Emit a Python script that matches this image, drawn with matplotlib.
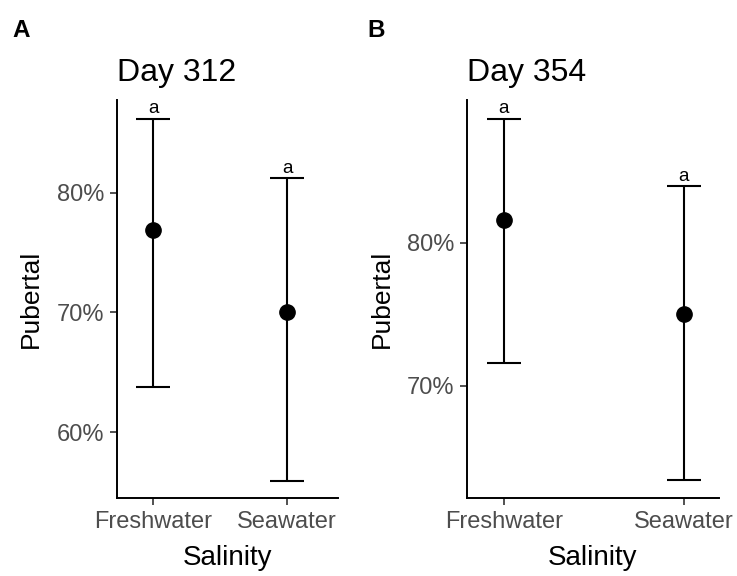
import numpy as np
import matplotlib
matplotlib.use("Agg")
import matplotlib.pyplot as plt
from matplotlib.ticker import FuncFormatter

plt.rcParams['font.family'] = ['Liberation Sans', 'DejaVu Sans']

# Data (percent)
salinity = ['Freshwater', 'Seawater']

day312_mean = [76.9, 70.0]
day312_low = [63.8, 55.9]
day312_high = [86.2, 81.2]
day312_letters = ['a', 'a']

day354_mean = [81.6, 75.05]
day354_low = [71.6, 63.4]
day354_high = [88.7, 83.95]
day354_letters = ['a', 'a']

W, H = 737, 576
fig = plt.figure(figsize=(W / 100, H / 100), dpi=100)


def px_axes(left, right, top, bottom):
    return fig.add_axes([left / W, 1 - bottom / H, (right - left) / W, (bottom - top) / H])


# Draw one panel: point + error bar + letters above caps
def draw_panel(ax, mean, low, high, letters, title, xlim, ylim, yticks, ylab_x):
    x = np.arange(1, len(salinity) + 1)
    mean = np.array(mean)
    yerr = [mean - np.array(low), np.array(high) - mean]
    ax.errorbar(x, mean, yerr=yerr, fmt='o', color='black', ms=11,
                elinewidth=1.5, capsize=12.5, capthick=1.5)
    for xi, hi, lab in zip(x, high, letters):
        ax.annotate(lab, (xi, hi), xytext=(0, 1), textcoords='offset points',
                    ha='center', va='bottom', fontsize=13.5)

    ax.set_xlim(*xlim)
    ax.set_ylim(*ylim)
    ax.set_xticks(x)
    ax.set_xticklabels(salinity)
    ax.set_yticks(yticks)
    ax.yaxis.set_major_formatter(FuncFormatter(lambda v, p: f'{v:.0f}%'))
    ax.tick_params(labelsize=17, labelcolor='#4D4D4D', color='#333333',
                   length=5, width=1.2, pad=4)
    for s in ['top', 'right']:
        ax.spines[s].set_visible(False)
    for s in ['left', 'bottom']:
        ax.spines[s].set_linewidth(1.4)
    ax.set_xlabel('Salinity', fontsize=20, labelpad=9)
    ax.set_ylabel('Pubertal', fontsize=19)
    ax.yaxis.set_label_coords(ylab_x, 0.5)
    ax.set_title(title, loc='left', fontsize=23, pad=14)


axA = px_axes(117, 338, 100, 498)
draw_panel(axA, day312_mean, day312_low, day312_high, day312_letters,
           'Day 312', (0.73, 2.38), (54.5, 87.75), [60, 70, 80], -0.335)

axB = px_axes(467, 719, 100, 498)
draw_panel(axB, day354_mean, day354_low, day354_high, day354_letters,
           'Day 354', (0.795, 2.195), (62.15, 90.0), [70, 80], -0.29)

fig.text(12 / W, 1 - 37 / H, 'A', fontsize=17.5, fontweight='bold')
fig.text(367 / W, 1 - 37 / H, 'B', fontsize=17.5, fontweight='bold')

fig.savefig('out.png', dpi=100, facecolor='white')
